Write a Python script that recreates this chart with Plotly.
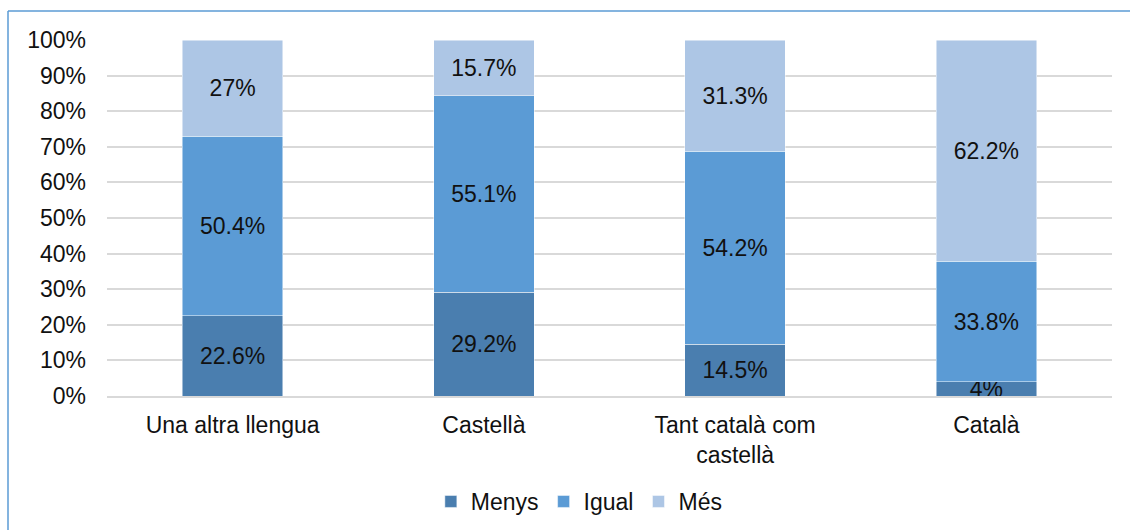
import plotly.graph_objects as go

categories = ["Una altra llengua", "Castellà", "Tant català com<br>castellà", "Català"]
menys = [22.6, 29.2, 14.5, 4]
igual = [50.4, 55.1, 54.2, 33.8]
mes = [27, 15.7, 31.3, 62.2]
tick_vals = [0, 10, 20, 30, 40, 50, 60, 70, 80, 90, 100]
tick_text = [f"{v}%" for v in tick_vals]

series = [
    ("Menys", menys, "#4A7EAF"),
    ("Igual", igual, "#5B9BD5"),
    ("Més", mes, "#ADC6E5"),
]

FONT = "Liberation Sans, Arial, sans-serif"
FS = 23

fig = go.Figure()
for name, vals, color in series:
    fig.add_trace(go.Bar(
        name=name,
        x=categories,
        y=vals,
        marker=dict(color=color, line=dict(color="rgba(255,255,255,0.6)", width=0.8)),
        text=[f"{v:g}%" for v in vals],
        textposition="inside",
        insidetextanchor="middle",
        textangle=0,
        textfont=dict(family=FONT, size=FS, color="#111111"),
        constraintext="none",
        cliponaxis=False,
        width=0.4,
    ))

fig.update_layout(
    barmode="stack",
    width=1130,
    height=530,
    margin=dict(l=107, r=18, t=40, b=134, autoexpand=False),
    paper_bgcolor="white",
    plot_bgcolor="white",
    font=dict(family=FONT, size=FS, color="#111111"),
    showlegend=True,
    legend=dict(
        orientation="h",
        x=0.47, xanchor="center",
        yref="container",
        y=(530 - 480) / 530, yanchor="top",
        font=dict(size=FS),
        itemwidth=30,
        traceorder="normal",
    ),
)

fig.update_xaxes(
    automargin=False,
    showgrid=False,
    showline=True,
    linecolor="#D9D9D9",
    linewidth=1.5,
    ticks="",
    ticklabelstandoff=8,
    tickfont=dict(size=FS),
)
fig.update_yaxes(
    automargin=False,
    range=[0, 100],
    tickvals=tick_vals,
    ticktext=tick_text,
    showgrid=True,
    gridcolor="#D9D9D9",
    gridwidth=1.5,
    zeroline=False,
    ticks="",
    ticklabelstandoff=20,
    tickfont=dict(size=FS),
)

# outer frame (left and top edges)
frame_x = -99 / 1005
frame_top = (530 - 134 - 11) / 356
frame_bottom = -134 / 356
fig.add_shape(type="line", xref="paper", yref="paper",
              x0=frame_x, x1=frame_x, y0=frame_bottom, y1=frame_top,
              line=dict(color="#5B9BD5", width=1.5))
fig.add_shape(type="line", xref="paper", yref="paper",
              x0=frame_x, x1=1.05, y0=frame_top, y1=frame_top,
              line=dict(color="#5B9BD5", width=1.5))

fig.write_html("out.html")
